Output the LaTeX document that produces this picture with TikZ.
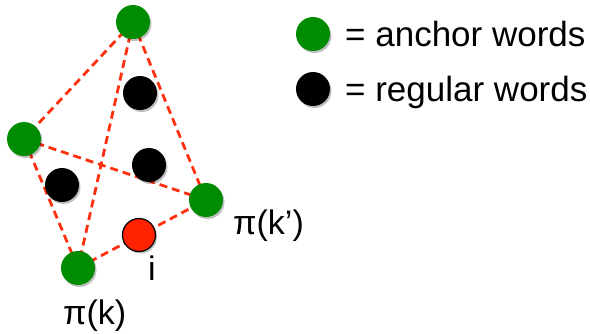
\documentclass[tikz,border=0pt]{standalone}
\usepackage{fontspec}
\setmainfont{Liberation Sans}
\usetikzlibrary{shadows}
\definecolor{anchorgreen}{RGB}{0,140,0}
\definecolor{edgered}{RGB}{255,48,16}
\definecolor{pointred}{RGB}{255,34,0}
\begin{document}
\begin{tikzpicture}[x=1pt,y=-1pt,
  word/.style={circle,minimum size=34pt,inner sep=0pt,
    drop shadow={shadow xshift=1.5pt,shadow yshift=-2pt,opacity=0.25,fill=black}},
  anchorw/.style={word,fill=anchorgreen},
  regularw/.style={word,fill=black},
  queryw/.style={word,fill=pointred,draw=black,line width=1.2pt,minimum size=33pt},
  edge/.style={draw=edgered,line width=2.8pt,dash pattern=on 8pt off 5pt},
  lbl/.style={font=\fontsize{34}{38}\selectfont,inner sep=0pt}]
\useasboundingbox (0,0) rectangle (590,333);
\fill[white] (0,0) rectangle (590,333);

% word positions
\coordinate (cT) at (133,22);
\coordinate (cL) at (24,139);
\coordinate (cR) at (206,200);
\coordinate (cB) at (78,268);
\coordinate (cI) at (139,235);

% dashed simplex edges
\path[edge] (cT) -- (cL);
\path[edge] (cT) -- (cB);
\path[edge] (cT) -- (cR);
\path[edge] (cL) -- (cR);
\path[edge] (cL) -- (cB);
\path[edge] (cB) -- (cR);

% anchor words
\node[anchorw] (top) at (cT) {};
\node[anchorw] (left) at (cL) {};
\node[anchorw] (right) at (cR) {};
\node[anchorw] (bottom) at (cB) {};

% regular words
\node[regularw] (r1) at (140,93) {};
\node[regularw] (r2) at (149,165) {};
\node[regularw] (r3) at (62,185) {};

% the word i
\node[queryw] (wi) at (cI) {};

% labels
\node[lbl,anchor=base] (li) at (152,280) {i};
\node[lbl,anchor=base west] (lk) at (63,324) {π(k)};
\node[lbl,anchor=base west] (lkp) at (233,234) {π(k’)};

% legend
\node[anchorw] (lega) at (313,34) {};
\node[regularw] (legr) at (313,89) {};
\node[lbl,anchor=base west,font=\fontsize{35}{40}\selectfont] (ta) at (345,46) {= anchor words};
\node[lbl,anchor=base west,font=\fontsize{35}{40}\selectfont] (tr) at (345,101) {= regular words};
\end{tikzpicture}
\end{document}
